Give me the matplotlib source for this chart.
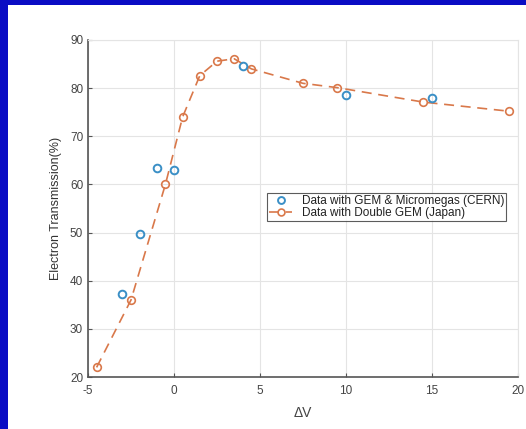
import matplotlib
matplotlib.use("Agg")
import matplotlib.pyplot as plt
from matplotlib.patches import Rectangle

plt.rcParams['font.family'] = ['Liberation Sans', 'DejaVu Sans']
plt.rcParams['axes.unicode_minus'] = False

cern_x = [-3, -2, -1, 0, 4, 10, 15]
cern_y = [37.3, 49.6, 63.5, 63.0, 84.5, 78.5, 78.0]
japan_x = [-4.5, -2.5, -0.5, 0.5, 1.5, 2.5, 3.5, 4.5, 7.5, 9.5, 14.5, 19.5]
japan_y = [22.0, 36.0, 60.0, 74.0, 82.6, 85.6, 86.1, 84.0, 81.0, 80.1, 77.1, 75.2]
xticks = [-5, 0, 5, 10, 15, 20]
yticks = [20, 30, 40, 50, 60, 70, 80, 90]

W, H = 526, 429
fig = plt.figure(figsize=(W/100, H/100), dpi=100)
fig.patch.set_facecolor('#0a0cc4')
bg = Rectangle((8/W, 0), 1 - 8/W, 1 - 5/H, transform=fig.transFigure,
               facecolor='white', edgecolor='none', zorder=-10)
fig.patches.append(bg)

L, R, T, B = 88, 518, 40, 377
ax = fig.add_axes([L/W, 1 - B/H, (R-L)/W, (B-T)/H])
ax.set_facecolor('white')

blue = '#3a8fc6'
orange = '#d9784a'

ax.plot(japan_x, japan_y, linestyle=(0, (6, 4)), color=orange, lw=1.2,
        marker='o', markersize=5.5, markerfacecolor='none', markeredgecolor=orange,
        markeredgewidth=1.2, label='Data with Double GEM (Japan)', zorder=3)
ax.plot(cern_x, cern_y, linestyle='none', marker='o', markersize=5.5,
        markerfacecolor='none', markeredgecolor=blue, markeredgewidth=1.4,
        label='Data with GEM & Micromegas (CERN)', zorder=4)

ax.set_xlim(-5, 20)
ax.set_ylim(20, 90)
ax.set_xticks(xticks)
ax.set_yticks(yticks)
ax.grid(True, color='#e4e4e4', lw=0.8)
ax.set_axisbelow(True)
for s in ['top', 'right']:
    ax.spines[s].set_color('#e4e4e4')
    ax.spines[s].set_linewidth(0.8)
for s in ['left', 'bottom']:
    ax.spines[s].set_color('#555555')
    ax.spines[s].set_linewidth(1.2)
ax.tick_params(direction='in', length=3, colors='#555555', labelsize=8.5,
               labelcolor='#444444', top=False, right=False)
ax.tick_params(axis='x', pad=6)

ax.set_xlabel('ΔV', fontsize=10, color='#444444', labelpad=6)
ax.set_ylabel('Electron Transmission(%)', fontsize=9, color='#333333', labelpad=6)

handles, labels = ax.get_legend_handles_labels()
leg = ax.legend(handles[::-1], labels[::-1], loc='upper left',
                bbox_to_anchor=((267-L)/(R-L), (B-193)/(B-T)), borderaxespad=0,
                fontsize=8.5, frameon=True, fancybox=False, edgecolor='#333333',
                borderpad=0.15, labelspacing=0.05, handlelength=2.0, handletextpad=0.8,
                markerscale=0.9)
leg.get_frame().set_linewidth(0.8)
for t in leg.get_texts():
    t.set_color('#222222')

fig.savefig('out.png', dpi=100, facecolor=fig.get_facecolor())
